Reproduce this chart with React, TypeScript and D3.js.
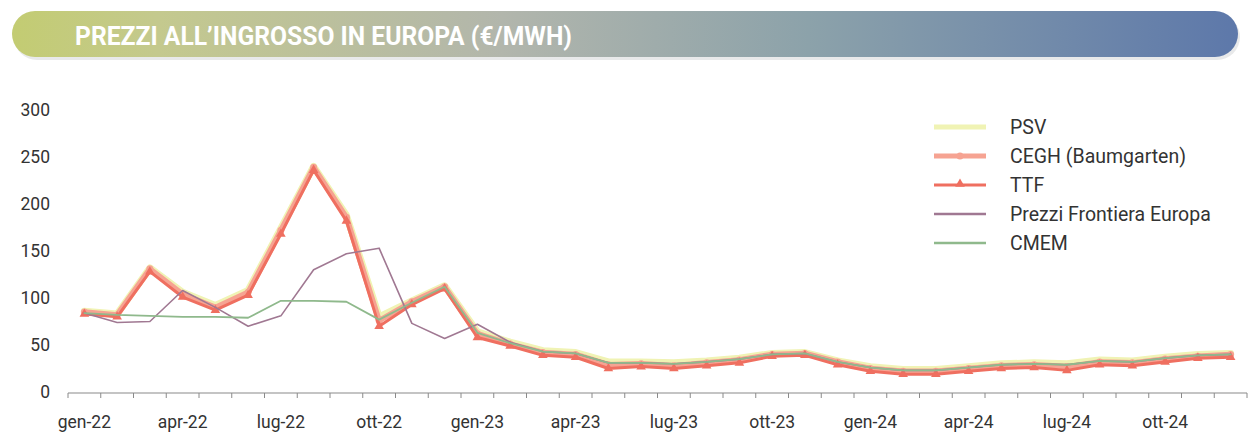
import React from "react";
import * as d3 from "d3";

const months = [
  "gen-22","feb-22","mar-22","apr-22","mag-22","giu-22","lug-22","ago-22","set-22","ott-22","nov-22","dic-22",
  "gen-23","feb-23","mar-23","apr-23","mag-23","giu-23","lug-23","ago-23","set-23","ott-23","nov-23","dic-23",
  "gen-24","feb-24","mar-24","apr-24","mag-24","giu-24","lug-24","ago-24","set-24","ott-24","nov-24","dic-24",
];
const tickLabels = ["gen-22","apr-22","lug-22","ott-22","gen-23","apr-23","lug-23","ott-23","gen-24","apr-24","lug-24","ott-24"];
const yTicks = [0, 50, 100, 150, 200, 250, 300];

const psv = [
  86, 83, 132, 106, 92, 108, 174, 240, 188, 80, 97, 113,
  64, 53, 44, 42, 32, 32, 31, 33, 36, 41, 42, 33,
  27, 24, 24, 27, 30, 31, 30, 34, 33, 37, 40, 41,
];
const cegh = [
  85, 82, 131, 104, 90, 106, 172, 239, 186, 76, 96, 112,
  62, 51, 42, 40, 29, 30, 28, 31, 34, 40, 41, 32,
  25, 22, 22, 25, 28, 29, 27, 32, 31, 35, 38, 40,
];
const ttf = [
  83, 80, 128, 101, 87, 103, 168, 236, 182, 70, 93, 110,
  58, 49, 39, 37, 25, 27, 25, 28, 31, 38, 39, 29,
  22, 19, 19, 22, 25, 26, 23, 29, 28, 32, 36, 37,
];
const pfe = [
  84, 74, 75, 108, 90, 70, 81, 130, 147, 153, 73, 57,
  72, 53, 43, 41, 31, 31, 30, 32, 35, 40, 41, 32,
  26, 23, 23, 26, 29, 30, 29, 33, 32, 36, 39, 40,
];
const cmem = [
  84, 82, 81, 80, 80, 79, 97, 97, 96, 77, 95, 112,
  63, 52, 43, 41, 31, 31, 30, 32, 35, 40, 41, 32,
  26, 23, 23, 26, 29, 30, 29, 33, 32, 36, 39, 40,
];

const seriesNames = ["PSV", "CEGH (Baumgarten)", "TTF", "Prezzi Frontiera Europa", "CMEM"];

export default function App() {
  const W = 1250, H = 438;
  const x = d3.scaleBand<string>().domain(months).range([68, 1247]);
  const y = d3.scaleLinear().domain([0, 300]).range([392, 110]);
  const cx = (m: string) => (x(m) as number) + x.bandwidth() / 2;
  const line = d3.line<number>().x((_, i) => cx(months[i])).y((v) => y(v));

  const series = [
    { name: seriesNames[0], data: psv, color: "#f0f3b4", width: 7, marker: "none" },
    { name: seriesNames[1], data: cegh, color: "#f6a392", width: 5.5, marker: "circle" },
    { name: seriesNames[2], data: ttf, color: "#ef6f60", width: 3, marker: "tri" },
    { name: seriesNames[3], data: pfe, color: "#a07892", width: 1.6, marker: "none" },
    { name: seriesNames[4], data: cmem, color: "#8fb98c", width: 1.8, marker: "none" },
  ];

  const tri = d3.symbol().type(d3.symbolTriangle).size(40)();

  return (
    <svg width={W} height={H} style={{ position: "absolute", left: 0, top: 0, fontFamily: "Roboto, 'Noto Sans', sans-serif" }}>
      <defs>
        <linearGradient id="hdr" x1="0" x2="1" y1="0" y2="0">
          <stop offset="0" stopColor="#c3cc72" />
          <stop offset="0.12" stopColor="#c4c98e" />
          <stop offset="0.4" stopColor="#b2b6ac" />
          <stop offset="0.65" stopColor="#8ca2aa" />
          <stop offset="1" stopColor="#5d78aa" />
        </linearGradient>
      </defs>
      <rect x={0} y={0} width={W} height={H} fill="#ffffff" />
      <rect x={14} y={14} width={1226} height={46} rx={23} fill="#d8dadc" opacity={0.6} />
      <rect x={12} y={11} width={1226} height={46} rx={23} fill="url(#hdr)" />
      <text x={75} y={45} fill="#ffffff" fontSize={25} fontWeight={700} textLength={497} lengthAdjust="spacingAndGlyphs"
        style={{ fontFamily: "Roboto, 'Noto Sans', sans-serif" }}>
        PREZZI ALL’INGROSSO IN EUROPA (€/MWH)
      </text>

      {/* y tick labels */}
      {yTicks.map((t) => (
        <text key={t} x={50} y={y(t)} dy="0.35em" textAnchor="end" fontSize={17.5} fill="#333">{t}</text>
      ))}

      {/* x axis */}
      <line x1={68} x2={1247} y1={393} y2={393} stroke="#8a8a8a" strokeWidth={1.2} />
      {months.map((m) => (
        <line key={m} x1={x(m)} x2={x(m)} y1={393} y2={398} stroke="#8a8a8a" strokeWidth={1} />
      ))}
      <line x1={1247} x2={1247} y1={393} y2={398} stroke="#8a8a8a" strokeWidth={1} />
      {tickLabels.map((m) => (
        <text key={m} x={cx(m)} y={428} textAnchor="middle" fontSize={17.5} fill="#333">{m}</text>
      ))}

      {/* lines */}
      {series.map((s) => (
        <g key={s.name}>
          <path d={line(s.data) as string} fill="none" stroke={s.color} strokeWidth={s.width}
            strokeLinejoin="round" strokeLinecap="round" />
          {s.marker === "circle" && s.data.map((v, i) => (
            <circle key={i} cx={cx(months[i])} cy={y(v)} r={3.5} fill={s.color} />
          ))}
          {s.marker === "tri" && s.data.map((v, i) => (
            <path key={i} d={tri as string} transform={`translate(${cx(months[i])},${y(v)})`} fill={s.color} />
          ))}
        </g>
      ))}

      {/* legend */}
      {series.map((s, i) => {
        const ly = 127 + i * 29;
        return (
          <g key={s.name}>
            <line x1={934} x2={986} y1={ly} y2={ly} stroke={s.color} strokeWidth={s.name === "PSV" ? 5 : Math.max(2.5, Math.min(s.width, 5))} />
            {s.marker === "circle" && <circle cx={960} cy={ly} r={3.5} fill={s.color} />}
            {s.marker === "tri" && <path d={tri as string} transform={`translate(960,${ly - 1})`} fill={s.color} />}
            <text x={1010} y={ly} dy="0.35em" fontSize={19.5} fill="#333">{s.name}</text>
          </g>
        );
      })}
    </svg>
  );
}
